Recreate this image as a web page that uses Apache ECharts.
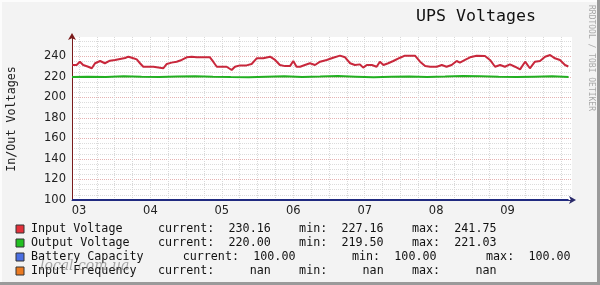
<!DOCTYPE html>
<html><head><meta charset="utf-8">
<script src="https://cdn.jsdelivr.net/npm/echarts@6/dist/echarts.min.js"></script>
<style>html,body{margin:0;padding:0;background:#f3f3f3}#c{width:600px;height:285px}</style>
</head><body><div id="c"></div>
<script>
// x axis in hours since midnight of day "03"
const xStart = 9.65, xEnd = 177.65;
const dayLabels = ['03','04','05','06','07','08','09'];
const labelHours = [12,36,60,84,108,132,156];
const midnightHours = [24,48,72,96,120,144,168];
const sixHourTicks = [12,18,24,30,36,42,48,54,60,66,72,78,84,90,96,102,108,114,120,126,132,138,144,150,156,162,168,174];
const yMin = 100, yMax = 259;
const yMajorTicks = [100,120,140,160,180,200,220,240];
const yMinorTicks = [105,110,115,125,130,135,145,150,155,165,170,175,185,190,195,205,210,215,225,230,235,245,250,255];

const inputHours = [9.75,11.2,12.3,13.4,15.1,16.3,17.4,19.1,20.7,22.4,24.1,25.8,27.5,28.6,30.3,31.4,32.5,33.6,35.3,37.0,39.2,40.3,41.5,43.1,44.8,46.5,48.2,49.9,51.5,56.0,57.1,58.3,59.9,61.6,63.3,64.4,66.1,68.3,70.0,71.7,73.9,76.2,77.9,79.5,81.2,82.9,84.0,85.1,86.3,87.9,89.6,91.3,93.0,95.2,97.4,99.7,101.4,103.1,104.7,106.4,107.5,108.7,110.4,112.0,113.1,114.3,115.9,117.6,119.9,121.5,124.9,126.6,128.3,130.0,132.2,133.9,135.5,137.2,138.9,140.0,141.7,143.4,145.6,148.4,150.1,151.8,153.5,155.1,156.8,158.5,160.2,161.9,163.5,165.2,166.9,168.6,170.3,171.9,173.6,175.3,176.4];
const inputVolts = [231.7,231.7,234.9,231.7,230.0,228.5,233.4,235.6,233.4,235.9,236.6,237.6,238.5,239.8,238.2,237.2,233.4,230.0,230.0,230.0,229.1,228.5,232.7,234.0,234.9,236.6,239.2,239.8,239.2,239.2,234.9,230.0,230.0,230.0,226.8,230.0,231.3,231.3,232.7,238.2,238.2,239.8,236.6,231.7,230.6,230.6,235.6,230.0,230.0,231.7,233.4,231.7,234.9,236.6,238.8,240.8,239.2,233.4,231.7,232.3,229.1,231.7,231.7,230.0,234.9,231.7,233.4,235.6,238.8,240.8,240.8,234.9,230.6,230.0,230.0,231.7,230.0,231.7,235.6,234.0,236.6,239.2,240.8,240.5,236.6,230.0,231.7,230.0,232.3,230.0,227.4,234.9,228.5,234.9,235.6,239.8,241.4,238.2,236.6,231.7,230.2];

const outputHours = [9.65,15,21,27,33,39,45,51,57,63,69,75,81,87,93,99,105,111,117,123,129,135,141,147,153,159,165,171,176.5];
const outputVolts = [220.0,220.3,220.1,220.6,220.2,219.9,220.4,220.8,220.3,220.0,219.8,220.2,220.6,220.1,220.4,220.9,220.3,219.7,220.2,220.5,220.0,220.4,221.0,220.6,220.2,219.9,220.3,220.7,220.0];

const batteryHours = [9.65,176.5];
const batteryValues = [100,100];

const cw = 7.055;
const legendRows = [
  {color:'#e3303a', y:229, parts:[[0,'Input Voltage'],[18,'current:'],[28,'230.16'],[38,'min:'],[44,'227.16'],[54,'max:'],[60,'241.75']]},
  {color:'#22c022', y:243, parts:[[0,'Output Voltage'],[18,'current:'],[28,'220.00'],[38,'min:'],[44,'219.50'],[54,'max:'],[60,'221.03']]},
  {color:'#4a6fe3', y:257, parts:[[0,'Battery Capacity'],[21.5,'current:'],[31.5,'100.00'],[45.5,'min:'],[51.5,'100.00'],[64.5,'max:'],[70.5,'100.00']]},
  {color:'#ea7a22', y:271, parts:[[0,'Input Frequency'],[18,'current:'],[31,'nan'],[38,'min:'],[47,'nan'],[54,'max:'],[63,'nan']]}
];

const graphics = [];
graphics.push({type:'rect', shape:{x:0,y:0,width:600,height:2}, style:{fill:'#fcfcfc'}, z:-1});
graphics.push({type:'rect', shape:{x:0,y:0,width:2,height:285}, style:{fill:'#fcfcfc'}, z:-1});
graphics.push({type:'rect', shape:{x:597,y:0,width:3,height:285}, style:{fill:'#9a9a9a'}, z:-1});
graphics.push({type:'rect', shape:{x:0,y:282,width:600,height:3}, style:{fill:'#9a9a9a'}, z:-1});
graphics.push({type:'text', x:416, y:17, style:{text:'UPS Voltages', font:'16.6px "DejaVu Sans Mono"', fill:'#111', verticalAlign:'middle'}});
graphics.push({type:'text', x:12, y:119, rotation:Math.PI/2, style:{text:'In/Out Voltages', font:'11.7px "DejaVu Sans Mono"', fill:'#222', align:'center', verticalAlign:'middle'}});
graphics.push({type:'text', x:591, y:58, rotation:-Math.PI/2, style:{text:'RRDTOOL / TOBI OETIKER', font:'8px "DejaVu Sans Mono"', fill:'#a8a8a8', align:'center', verticalAlign:'middle'}});
legendRows.forEach(r => {
  graphics.push({type:'rect', shape:{x:16,y:r.y-4,width:8,height:8}, style:{fill:r.color, stroke:'#333', lineWidth:1}});
  r.parts.forEach(p => {
    graphics.push({type:'text', x:31 + p[0]*cw, y:r.y, style:{text:p[1], font:'11.7px "DejaVu Sans Mono"', fill:'#111', verticalAlign:'middle'}});
  });
});
graphics.push({type:'text', x:40, y:266, style:{text:'local.com.ua', font:'italic 14px "DejaVu Serif"', fill:'rgba(90,90,90,0.5)', verticalAlign:'middle'}});

const chart = echarts.init(document.getElementById('c'), null, {renderer:'canvas'});
chart.setOption({
  animation:false,
  backgroundColor:'#f3f3f3',
  grid:{left:72, right:28, top:37, bottom:85, show:true, backgroundColor:'#ffffff', borderWidth:0},
  xAxis:[
    {type:'value', min:xStart, max:xEnd, position:'bottom',
     axisLine:{show:true, lineStyle:{color:'#2a2a6a', width:1}, symbol:['none','arrow'], symbolSize:[6,7], symbolOffset:[0,4]},
     axisTick:{show:false, customValues:midnightHours},
     axisLabel:{customValues:labelHours, formatter:v=>dayLabels[labelHours.indexOf(Math.round(v))]||'', fontFamily:'DejaVu Sans', fontSize:11.5, color:'#222', margin:5},
     splitLine:{show:true, lineStyle:{color:'#e6b3b3', type:[1,1], width:1}}},
    {type:'value', min:xStart, max:xEnd, position:'top',
     axisLine:{show:false}, axisLabel:{show:false},
     axisTick:{show:false, customValues:sixHourTicks},
     splitLine:{show:true, lineStyle:{color:'#d8d8d8', type:[1,1], width:1}}}
  ],
  yAxis:[
    {type:'value', min:yMin, max:yMax, position:'left',
     axisLine:{show:true, lineStyle:{color:'#7a1a1a', width:1}, symbol:['none','arrow'], symbolSize:[6,7], symbolOffset:[0,4]},
     axisTick:{show:false, customValues:yMajorTicks},
     axisLabel:{customValues:yMajorTicks, fontFamily:'DejaVu Sans', fontSize:11.5, color:'#222', margin:6},
     splitLine:{show:true, lineStyle:{color:'#e6b3b3', type:[1,1], width:1}}},
    {type:'value', min:yMin, max:yMax, position:'right',
     axisLine:{show:false}, axisLabel:{show:false},
     axisTick:{show:false, customValues:yMinorTicks},
     splitLine:{show:true, lineStyle:{color:'#dcdcdc', type:[1,1], width:1}}}
  ],
  series:[
    {name:'Battery Capacity', type:'line', xAxisIndex:0, yAxisIndex:0, symbol:'none', clip:false,
     data:batteryHours.map((h,i)=>[h,batteryValues[i]]), lineStyle:{color:'#202a80', width:2}, z:3},
    {name:'Output Voltage', type:'line', xAxisIndex:0, yAxisIndex:0, symbol:'none',
     data:outputHours.map((h,i)=>[h,outputVolts[i]]), lineStyle:{color:'#22b022', width:2}, z:4},
    {name:'Input Voltage', type:'line', xAxisIndex:0, yAxisIndex:0, symbol:'none',
     data:inputHours.map((h,i)=>[h,inputVolts[i]]), lineStyle:{color:'#c8283c', width:2}, z:5}
  ],
  graphic:graphics
});
</script></body></html>
